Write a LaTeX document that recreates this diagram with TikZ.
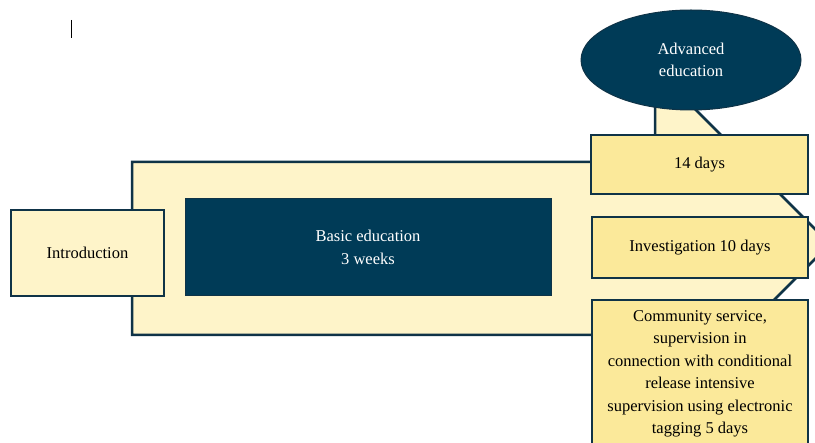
\documentclass[tikz,border=0pt]{standalone}
\usepackage{fontspec}
\setmainfont{Liberation Serif}
\usetikzlibrary{shapes.geometric}
\definecolor{navy}{HTML}{003B57}
\definecolor{edgeblue}{HTML}{0F3347}
\definecolor{paleyellow}{HTML}{FEF4C9}
\definecolor{boxyellow}{HTML}{FBE99A}
\tikzset{
	palestyle/.style={rectangle,draw=edgeblue,line width=2.5pt,fill=paleyellow,align=center,inner sep=0pt},
	stepstyle/.style={rectangle,draw=edgeblue,line width=2.5pt,fill=boxyellow,align=center,inner sep=0pt},
	darkstyle/.style={rectangle,draw=edgeblue,line width=1pt,fill=navy,text=white,align=center,inner sep=0pt},
	ovalstyle/.style={ellipse,draw=edgeblue,line width=1pt,fill=navy,text=white,align=center,inner sep=0pt}
}

\begin{document}
\begin{tikzpicture}[x=1pt,y=-1pt]
		\fontsize{16.5}{22.5}\selectfont
		\useasboundingbox (0,0) rectangle (815,443);
		\clip (0,0) rectangle (815,443);
		\draw[line width=1pt] (71,20)--(71,38);
		% background arrow
		\draw[draw=edgeblue,line width=2.5pt,fill=paleyellow,line join=miter]
			(132,162)--(655,162)--(655,95)--(681,95)--(830,244)--(739,335)--(132,335)--cycle;
		\node[palestyle,minimum width=153,minimum height=86] (intro) at (87.5,253) {Introduction};
		\node[darkstyle,minimum width=366,minimum height=97] (basic) at (368,247.5) {Basic education\\3 weeks};
		\node[ovalstyle,minimum width=220,minimum height=100] (adv) at (691,60) {Advanced\\education};
		\node[stepstyle,minimum width=217,minimum height=59] (d14) at (699.5,164.5) {14 days};
		\node[stepstyle,minimum width=216,minimum height=61] (inv) at (700,247.5) {Investigation 10 days};
		\node[stepstyle,minimum width=216,minimum height=148] (comm) at (700,374) {Community service,\\supervision in\\connection with conditional\\release intensive\\supervision using electronic\\tagging 5 days};
		\end{tikzpicture}
\end{document}
